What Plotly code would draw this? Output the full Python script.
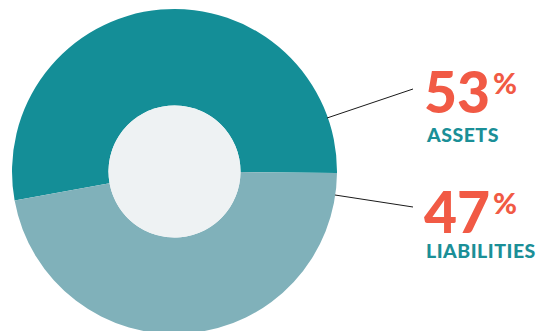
import plotly.graph_objects as go

W, H = 539, 340  # figure a bit taller than the 331px window; bottom of donut is cropped like the reference

categories = ["ASSETS", "LIABILITIES"]
values = [53, 47]
pct_labels = ["53", "47"]
colors = ["#148e97", "#80b1ba"]

TEAL_TXT = "#1b8f97"
RED_TXT = "#f15a45"

def px(x):
    return x / W

def py(y):
    return (H - y) / H

cx, cy, R = 174.5, 171.5, 162.5
hole_r = 66

fig = go.Figure()
fig.add_trace(go.Pie(
    labels=categories, values=values, sort=False,
    direction="clockwise", rotation=-100.3,
    marker=dict(colors=colors, line=dict(width=0)),
    hole=hole_r / R, textinfo="none", hoverinfo="label+percent",
    domain=dict(x=[px(cx - R), px(cx + R)], y=[py(cy + R), py(cy - R)]),
    showlegend=False,
))

shapes = [
    dict(type="circle", xref="paper", yref="paper",
         x0=px(cx - hole_r), x1=px(cx + hole_r), y0=py(cy + hole_r), y1=py(cy - hole_r),
         fillcolor="#eef2f3", line=dict(width=0), layer="above"),
    dict(type="line", xref="paper", yref="paper", x0=px(327), y0=py(118), x1=px(413), y1=py(89),
         line=dict(color="#1a1a1a", width=1)),
    dict(type="line", xref="paper", yref="paper", x0=px(335), y0=py(195), x1=px(413), y1=py(207),
         line=dict(color="#1a1a1a", width=1)),
]

NUM_SIZE, PCT_SIZE, CAT_SIZE = 57, 29, 19.5
num_base = [113.3, 233.3]
pct_base = [93.3, 213.3]
cat_base = [142.0, 258.3]

def mid(baseline, size):
    return baseline - 0.387 * size

annotations = []
for i in range(2):
    annotations.append(dict(
        text=pct_labels[i], x=px(422), y=py(mid(num_base[i], NUM_SIZE)), xref="paper", yref="paper",
        xanchor="left", yanchor="middle", showarrow=False,
        font=dict(family="Lato", size=NUM_SIZE, color=RED_TXT, weight=900)))
    annotations.append(dict(
        text="%", x=px(491), y=py(mid(pct_base[i], PCT_SIZE)), xref="paper", yref="paper",
        xanchor="left", yanchor="middle", showarrow=False,
        font=dict(family="Lato", size=PCT_SIZE, color=RED_TXT, weight=900)))
    annotations.append(dict(
        text=f"<span style='letter-spacing:0.5px'>{categories[i]}</span>",
        x=px(423.5), y=py(mid(cat_base[i], CAT_SIZE)), xref="paper", yref="paper",
        xanchor="left", yanchor="middle", showarrow=False,
        font=dict(family="Lato", size=CAT_SIZE, color=TEAL_TXT, weight=900)))

fig.update_layout(
    width=W, height=H, margin=dict(l=0, r=0, t=0, b=0),
    paper_bgcolor="white", plot_bgcolor="white",
    shapes=shapes, annotations=annotations,
)

fig.write_html("out.html", config={"displayModeBar": False},
               post_script="document.documentElement.style.overflow='hidden';document.body.style.overflow='hidden';")
